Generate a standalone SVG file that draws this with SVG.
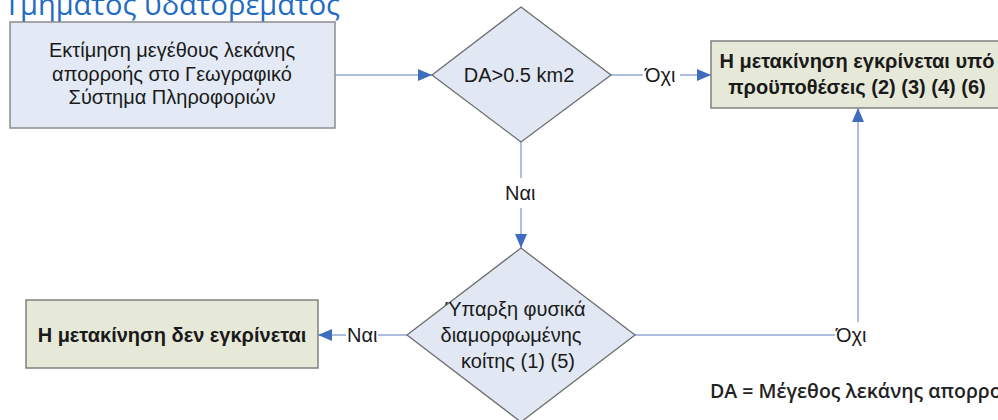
<svg xmlns="http://www.w3.org/2000/svg" width="998" height="420" viewBox="0 0 998 420">
<style>
.bg{fill:#ffffff}
.box-blue{fill:#e3eaf5;stroke:#8c8c8c;stroke-width:1.5}
.box-olive{fill:#e6e9d8;stroke:#808080;stroke-width:1.5}
.dia{fill:#e1e8f3;stroke:#6e6e6e;stroke-width:1.3}
.t{font-family:"Liberation Sans",Arial,sans-serif;font-size:20px;fill:#1a1a1a;text-anchor:middle}
.tb{font-family:"Liberation Sans",Arial,sans-serif;font-size:20px;font-weight:bold;fill:#1a1a1a;text-anchor:middle}
.lbl{font-family:"Liberation Sans",Arial,sans-serif;font-size:20px;fill:#1a1a1a}
.conn{fill:none;stroke:#93a9d6;stroke-width:1.5}
.title{font-family:"Open Sans","Noto Sans",sans-serif;font-size:29px;fill:#1f6cc2}
.note{font-family:"Open Sans","Noto Sans",sans-serif;font-size:19.5px;font-weight:600;fill:#222222}
</style>
<defs>
<marker id="arr" markerUnits="userSpaceOnUse" markerWidth="14" markerHeight="12" refX="14" refY="6" orient="auto">
<path d="M0,0 L14,6 L0,12 z" fill="#3e6cbf"/>
</marker>
</defs>
<rect class="bg" x="0" y="0" width="998" height="420"/>
<text class="title" x="4" y="15">Τμήματος υδατορέματος</text>

<g id="connectors">
<line class="conn" x1="335" y1="75" x2="432" y2="75" marker-end="url(#arr)"/>
<line class="conn" x1="611" y1="75" x2="643" y2="75"/>
<line class="conn" x1="680" y1="75" x2="711" y2="75" marker-end="url(#arr)"/>
<line class="conn" x1="521" y1="142" x2="521" y2="178"/>
<line class="conn" x1="521" y1="208" x2="521" y2="248" marker-end="url(#arr)"/>
<line class="conn" x1="407" y1="335" x2="378" y2="335"/>
<line class="conn" x1="346" y1="335" x2="318" y2="335" marker-end="url(#arr)"/>
<line class="conn" x1="635" y1="335" x2="835" y2="335"/>
<line class="conn" x1="858" y1="322" x2="858" y2="108" marker-end="url(#arr)"/>
<text class="lbl" x="645" y="82">Όχι</text>
<text class="lbl" x="505" y="200">Ναι</text>
<text class="lbl" x="347" y="342">Ναι</text>
<text class="lbl" x="836" y="342">Όχι</text>
</g>

<g id="n1">
<rect class="box-blue" x="10" y="22" width="325" height="106"/>
<text class="t" x="172" y="57">Εκτίμηση μεγέθους λεκάνης</text>
<text class="t" x="172" y="81">απορροής στο Γεωγραφικό</text>
<text class="t" x="172" y="104">Σύστημα Πληροφοριών</text>
</g>

<g id="d1">
<polygon class="dia" points="521,7 611,75 521,142 432,75"/>
<text class="t" x="519" y="82">DA&gt;0.5 km2</text>
</g>

<g id="n2">
<rect class="box-olive" x="711" y="41" width="300" height="67"/>
<text class="tb" x="857" y="68">Η μετακίνηση εγκρίνεται υπό</text>
<text class="tb" x="857" y="94">προϋποθέσεις (2) (3) (4) (6)</text>
</g>

<g id="d2">
<polygon class="dia" points="521,248 635,335 521,422 407,335"/>
<text class="t" x="515" y="316">Ύπαρξη φυσικά</text>
<text class="t" x="511" y="342">διαμορφωμένης</text>
<text class="t" x="518" y="368">κοίτης (1) (5)</text>
</g>

<g id="n3">
<rect class="box-olive" x="26" y="300" width="292" height="68"/>
<text class="tb" x="172" y="342">Η μετακίνηση δεν εγκρίνεται</text>
</g>

<text class="note" x="710" y="398">DA = Μέγεθος λεκάνης απορροής</text>
</svg>
